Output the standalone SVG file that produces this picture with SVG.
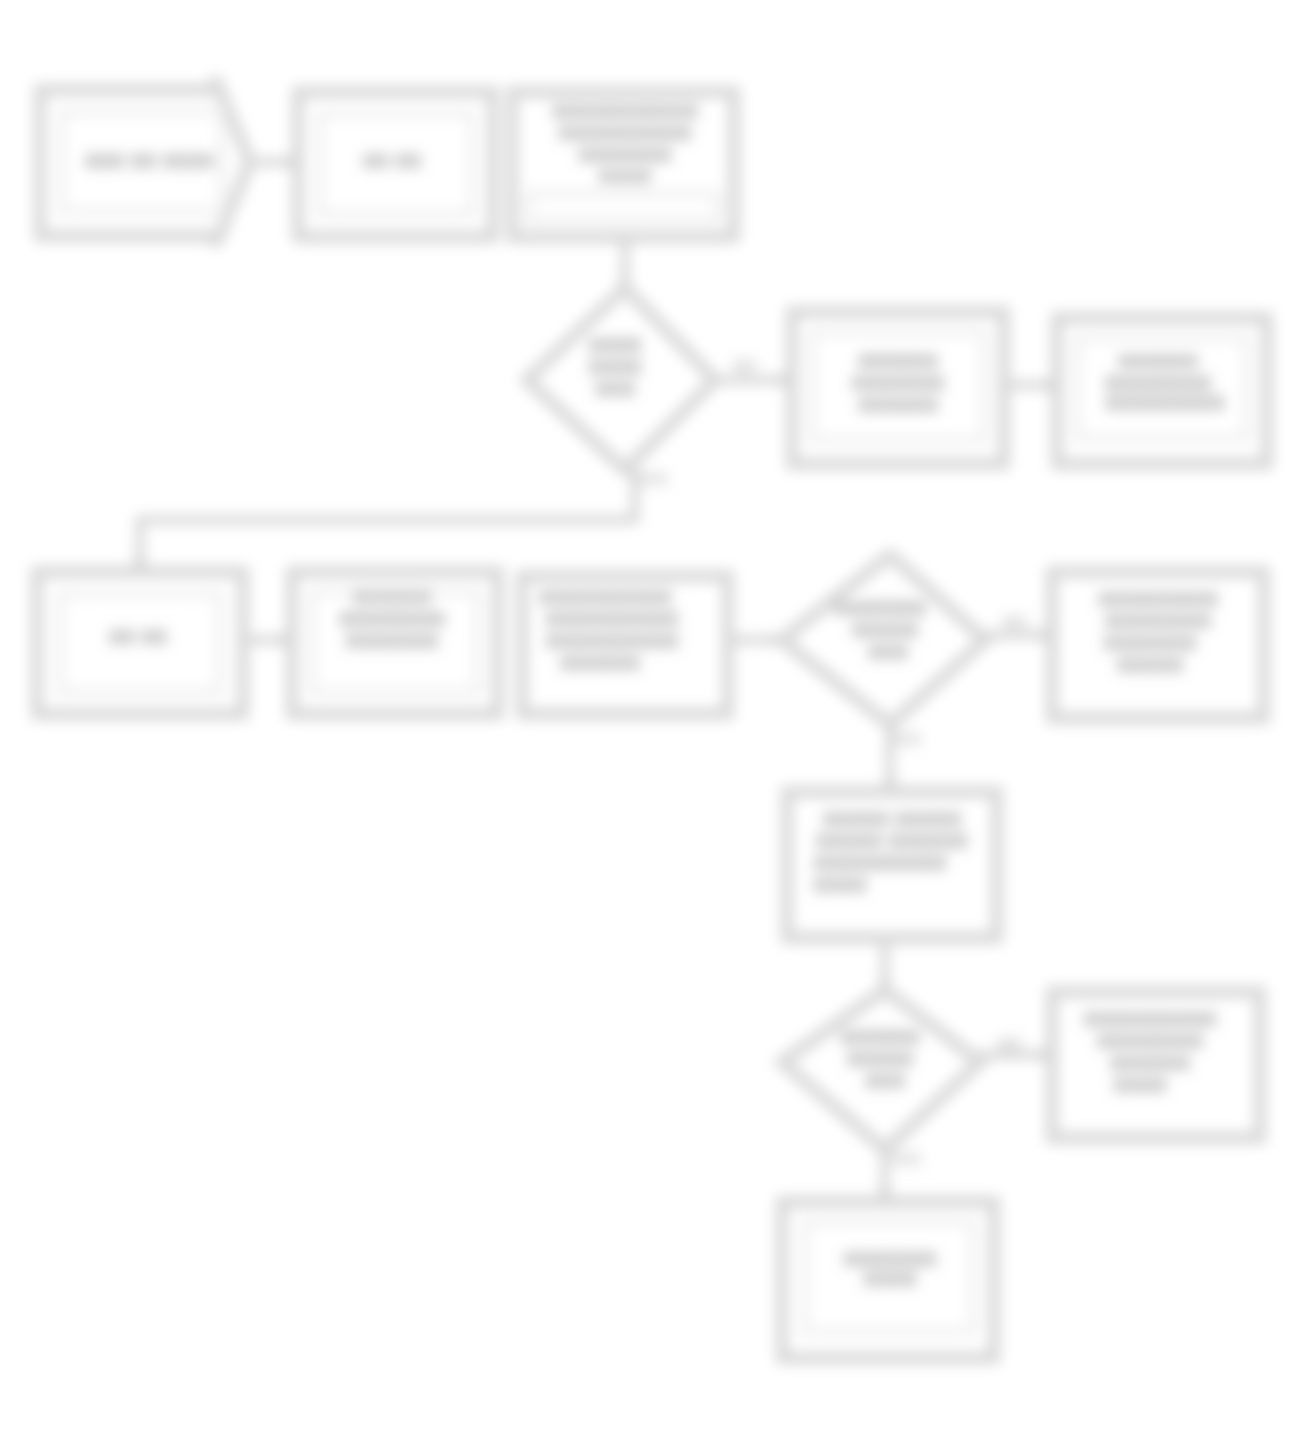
<svg xmlns="http://www.w3.org/2000/svg" width="1302" height="1430" viewBox="0 0 1302 1430">
<defs>
<filter id="blur" x="-5%" y="-5%" width="110%" height="110%"><feGaussianBlur stdDeviation="7"/></filter>
<marker id="arr" markerWidth="12" markerHeight="12" refX="10" refY="6" orient="auto" markerUnits="userSpaceOnUse"><path d="M0,0 L12,6 L0,12 z" fill="#c8c8c8"/></marker>
</defs>
<style>
.o{fill:none;stroke:#d8d8d8;stroke-width:12}
.i{fill:none;stroke:#f0f0f0;stroke-width:8}
.c{fill:none;stroke:#d2d2d2;stroke-width:8}
.t{font-family:"Liberation Sans",Arial,sans-serif;font-weight:bold;fill:#8c8c8c;text-anchor:middle;font-size:20px}
.l{font-family:"Liberation Sans",Arial,sans-serif;font-weight:bold;fill:#c0c0c0;text-anchor:middle;font-size:16px}
</style>
<rect width="1302" height="1430" fill="#ffffff"/>
<g filter="url(#blur)">
<g id="connectors">
<path class="c" d="M250,162 L295,162" marker-end="url(#arr)"/>
<path class="c" d="M625,240 L625,288" marker-end="url(#arr)"/>
<path class="c" d="M715,380 L790,380" marker-end="url(#arr)"/>
<path class="c" d="M1005,385 L1055,385" marker-end="url(#arr)"/>
<path class="c" d="M635,470 L635,520 L140,520 L140,570" marker-end="url(#arr)"/>
<path class="c" d="M245,640 L290,640" marker-end="url(#arr)"/>
<path class="c" d="M730,640 L780,640" marker-end="url(#arr)"/>
<path class="c" d="M985,635 L1050,635" marker-end="url(#arr)"/>
<path class="c" d="M890,725 L890,790" marker-end="url(#arr)"/>
<path class="c" d="M885,940 L885,990" marker-end="url(#arr)"/>
<path class="c" d="M980,1055 L1050,1055" marker-end="url(#arr)"/>
<path class="c" d="M885,1150 L885,1200" marker-end="url(#arr)"/>
<text class="l" x="745" y="372">NO</text>
<text class="l" x="652" y="485">YES</text>
<text class="l" x="1015" y="628">NO</text>
<text class="l" x="905" y="745">YES</text>
<text class="l" x="1010" y="1050">NO</text>
<text class="l" x="905" y="1165">YES</text>
</g>
<g id="n1">
<path class="o" d="M40,90 L215,90 L215,78 L250,162 L215,246 L215,236 L40,236 Z"/>
<rect class="i" x="62" y="112" width="160" height="100"/>
<text class="t" x="150" y="168">XXX XX XXXX</text>
</g>
<g id="n2">
<rect class="o" x="298" y="92" width="195" height="145"/>
<rect class="i" x="320" y="114" width="152" height="100"/>
<text class="t" x="392" y="168">XX XX</text>
</g>
<g id="n3">
<rect class="o" x="512" y="92" width="222" height="145"/>
<rect class="i" x="528" y="194" width="190" height="26"/>
<text class="t" x="625" y="118">XXXXXXXXXXX</text>
<text class="t" x="625" y="140">XXXXXXXXXX</text>
<text class="t" x="625" y="162">XXXXXXX</text>
<text class="t" x="625" y="184">XXXX</text>
</g>
<g id="d1">
<path class="o" d="M625,288 L715,380 L625,470 L527,380 Z"/>
<text class="t" x="615" y="352">XXXX</text>
<text class="t" x="615" y="374">XXXX</text>
<text class="t" x="615" y="396">XXX</text>
</g>
<g id="n4">
<rect class="o" x="792" y="312" width="212" height="152"/>
<rect class="i" x="812" y="332" width="172" height="108"/>
<text class="t" x="898" y="368">XXXXXX</text>
<text class="t" x="898" y="390">XXXXXXX</text>
<text class="t" x="898" y="412">XXXXXX</text>
</g>
<g id="n5">
<rect class="o" x="1057" y="318" width="210" height="146"/>
<rect class="i" x="1077" y="338" width="170" height="100"/>
<text class="t" x="1158" y="368">XXXXXX</text>
<text class="t" x="1158" y="390">XXXXXXXX</text>
<text class="t" x="1165" y="410">XXXXXXXXX</text>
</g>
<g id="n6">
<rect class="o" x="37" y="572" width="206" height="142"/>
<rect class="i" x="60" y="594" width="160" height="98"/>
<text class="t" x="138" y="644">XX XX</text>
</g>
<g id="n7">
<rect class="o" x="292" y="572" width="206" height="142"/>
<rect class="i" x="312" y="592" width="166" height="100"/>
<text class="t" x="392" y="604">XXXXXX</text>
<text class="t" x="392" y="626">XXXXXXXX</text>
<text class="t" x="392" y="648">XXXXXXX</text>
</g>
<g id="n8">
<rect class="o" x="522" y="576" width="206" height="138"/>
<text class="t" x="605" y="604">XXXXXXXXXX</text>
<text class="t" x="612" y="626">XXXXXXXXXX</text>
<text class="t" x="612" y="648">XXXXXXXXXX</text>
<text class="t" x="600" y="670">XXXXXX</text>
</g>
<g id="d2">
<path class="o" d="M890,555 L985,640 L890,725 L782,640 Z"/>
<text class="t" x="880" y="615">XXXXXXX</text>
<text class="t" x="885" y="637">XXXXX</text>
<text class="t" x="888" y="659">XXX</text>
</g>
<g id="n9">
<rect class="o" x="1052" y="572" width="212" height="146"/>
<text class="t" x="1158" y="606">XXXXXXXXX</text>
<text class="t" x="1158" y="628">XXXXXXXX</text>
<text class="t" x="1150" y="650">XXXXXXX</text>
<text class="t" x="1150" y="672">XXXXX</text>
</g>
<g id="n10">
<rect class="o" x="787" y="792" width="210" height="146"/>
<text class="t" x="892" y="826">XXXXX XXXXX</text>
<text class="t" x="892" y="848">XXXXX XXXXXX</text>
<text class="t" x="880" y="870">XXXXXXXXXX</text>
<text class="t" x="840" y="892">XXXX</text>
</g>
<g id="d3">
<path class="o" d="M885,990 L980,1062 L885,1150 L782,1062 Z"/>
<text class="t" x="880" y="1044">XXXXXX</text>
<text class="t" x="880" y="1066">XXXXX</text>
<text class="t" x="885" y="1088">XXX</text>
</g>
<g id="n11">
<rect class="o" x="1052" y="992" width="208" height="146"/>
<text class="t" x="1150" y="1026">XXXXXXXXXX</text>
<text class="t" x="1150" y="1048">XXXXXXXX</text>
<text class="t" x="1150" y="1070">XXXXXX</text>
<text class="t" x="1140" y="1092">XXXX</text>
</g>
<g id="n12">
<rect class="o" x="782" y="1202" width="212" height="156"/>
<rect class="i" x="805" y="1222" width="168" height="110"/>
<text class="t" x="890" y="1266">XXXXXXX</text>
<text class="t" x="890" y="1286">XXXX</text>
</g>
</g>
</svg>
